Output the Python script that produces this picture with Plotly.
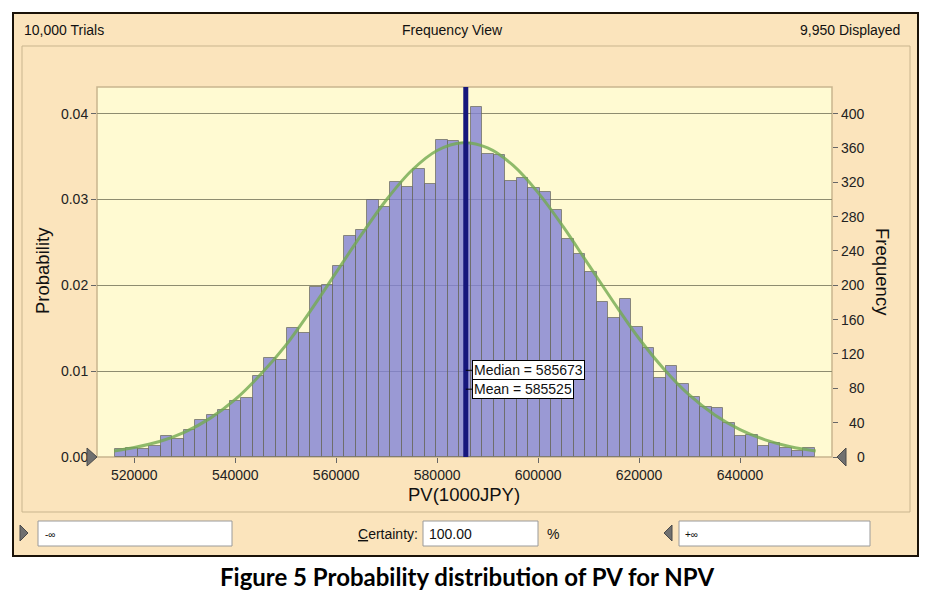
import plotly.graph_objects as go
import numpy as np

# ---------------- data ----------------
bin_start = 516180          # left edge of first bin (PV, 1000 JPY)
bin_width = 2273            # width of each bin
counts = [9, 11, 9, 13, 25, 21, 32, 43, 49, 55,
          65, 69, 94, 115, 113, 150, 145, 198, 200, 222,
          258, 265, 299, 291, 320, 315, 336, 318, 369, 368,
          366, 408, 353, 352, 321, 325, 313, 309, 288, 254,
          237, 216, 180, 162, 184, 151, 127, 92, 106, 85,
          70, 58, 57, 40, 25, 26, 13, 16, 11, 7, 10]
fit_x = [516000, 520000, 525000, 530000, 535000, 540000, 545000, 550000,
         555000, 560000, 565000, 570000, 575000, 580000, 585000, 590000,
         595000, 600000, 605000, 610000, 615000, 620000, 625000, 630000,
         635000, 640000, 645000, 650000, 655000]
fit_counts = [7, 11, 18, 29, 45, 67, 96, 130, 171, 215, 259, 300, 334, 357,
              366, 360, 340, 308, 268, 224, 180, 138, 102, 72, 49, 32, 20, 12, 7]
median_value = 585673
mean_value = 585525
trials_text = "10,000 Trials"
view_text = "Frequency View"
displayed_text = "9,950 Displayed"
x_ticks = [520000, 540000, 560000, 580000, 600000, 620000, 640000]
prob_ticks = [0.00, 0.01, 0.02, 0.03, 0.04]
freq_ticks = [0, 40, 80, 120, 160, 200, 240, 280, 320, 360, 400]
certainty = "100.00"
caption = "Figure 5 Probability distribution of PV for NPV"

# ---------------- geometry helpers ----------------
OFF = 8                      # page body margin
W, H = 929 - OFF, 595 - OFF
L, R, T, B = 97, 832, 87, 457   # plot area in window pixels
PW, PH = R - L, B - T


def px(x):
    return (x - L) / PW


def py(y):
    return (B - y) / PH


centers = bin_start + bin_width * (np.arange(len(counts)) + 0.5)

FONT = "Liberation Sans, Arial, sans-serif"
BEIGE = "#FBE4BC"
PLOTBG = "#FFFAD2"
TAN = "#C9B58E"

fig = go.Figure()

fig.add_trace(go.Bar(
    x=centers, y=counts, width=bin_width, yaxis="y2",
    marker=dict(color="rgb(129,130,213)", opacity=0.8,
                line=dict(color="rgb(105,105,105)", width=1)),
    showlegend=False, hoverinfo="skip"))

fig.add_trace(go.Scatter(
    x=fit_x, y=fit_counts, yaxis="y2", mode="lines",
    line=dict(color="rgba(115,170,80,0.8)", width=3, shape="spline"),
    showlegend=False, hoverinfo="skip"))

shapes = []
shapes.append(dict(type="rect", xref="paper", yref="paper", layer="below",
                   x0=px(13), x1=px(918), y0=py(556), y1=py(13),
                   fillcolor=BEIGE, line=dict(color="#1a1208", width=2)))
shapes.append(dict(type="rect", xref="paper", yref="paper", layer="below",
                   x0=px(22), x1=px(910), y0=py(512), y1=py(46),
                   fillcolor=BEIGE, line=dict(color=TAN, width=1)))
shapes.append(dict(type="rect", xref="paper", yref="paper", layer="below",
                   x0=0, x1=1, y0=0, y1=1,
                   fillcolor=PLOTBG, line=dict(color=TAN, width=1.5)))
shapes.append(dict(type="line", xref="x", yref="paper", layer="above",
                   x0=median_value, x1=median_value, y0=0, y1=1,
                   line=dict(color="#17177C", width=5)))
for yv in (0.0101, 0.0079):
    shapes.append(dict(type="line", xref="x", yref="y", xsizemode="pixel",
                       xanchor=median_value, x0=0, x1=8, y0=yv, y1=yv,
                       layer="above", line=dict(color="black", width=1)))


def tri(points, color="#707070"):
    path = "M " + " L ".join(f"{px(a)},{py(b)}" for a, b in points) + " Z"
    return dict(type="path", xref="paper", yref="paper", path=path,
                fillcolor=color, line=dict(color="#4a4a4a", width=1), layer="above")


shapes.append(tri([(87, 448), (97, 457), (87, 466)]))
shapes.append(tri([(846, 448), (837, 457), (846, 466)]))
shapes.append(tri([(20, 525), (28, 533), (20, 541)]))
shapes.append(tri([(672, 525), (664, 533), (672, 541)]))

for x0, x1 in ((38, 232), (423, 538), (679, 870)):
    shapes.append(dict(type="rect", xref="paper", yref="paper", layer="above",
                       x0=px(x0), x1=px(x1), y0=py(546), y1=py(521),
                       fillcolor="white", line=dict(color="#9a9a9a", width=1)))

ann = []


def text(x, y, s, size=14, xanchor="center", angle=0, family=FONT, color="#111", **kw):
    ann.append(dict(x=px(x), y=py(y), xref="paper", yref="paper", text=s,
                    showarrow=False, xanchor=xanchor, yanchor="middle",
                    textangle=angle, font=dict(family=family, size=size, color=color),
                    **kw))


text(22, 30, trials_text, xanchor="left")
text(452, 30, view_text)
text(902, 30, displayed_text, xanchor="right")
text(42, 271, "Probability", size=18.5, angle=-90)
text(883, 272, "Frequency", size=18.5, angle=90)
text(464, 494, "PV(1000JPY)", size=18.5)
text(356, 534, "<u>C</u>ertainty:", xanchor="left")
text(427, 534, certainty, xanchor="left")
text(553, 534, "%")
text(43, 534, "-∞", size=10, xanchor="left")
text(683, 534, "+∞", size=10, xanchor="left")
text(467, 576, "<b>" + caption + "</b>", size=24, family="Lato, sans-serif", color="black")

# right-axis labels, right aligned like the reference
for v in freq_ticks:
    ann.append(dict(x=px(867), y=v, xref="paper", yref="y2", text=str(v),
                    showarrow=False, xanchor="right", yanchor="middle",
                    font=dict(family=FONT, size=14, color="#222")))

for label, yv in ((f"Median = {median_value}", 0.0101), (f"Mean = {mean_value}", 0.0079)):
    ann.append(dict(x=median_value, y=yv, xref="x", yref="y", text=label,
                    showarrow=False, xanchor="left", yanchor="middle", xshift=6,
                    bgcolor="white", bordercolor="black", borderwidth=1, borderpad=1,
                    font=dict(family=FONT, size=14, color="#111")))

fig.update_layout(
    width=W, height=H,
    margin=dict(l=L - OFF, r=W - (R - OFF), t=T - OFF, b=H - (B - OFF), pad=0),
    paper_bgcolor="white", plot_bgcolor="rgba(0,0,0,0)",
    bargap=0, showlegend=False,
    shapes=shapes, annotations=ann,
    xaxis=dict(range=[512610, 658227], tickvals=x_ticks,
               ticktext=[str(v) for v in x_ticks], ticks="outside", ticklen=5,
               tickcolor="#666", showgrid=False, zeroline=False, showline=False,
               tickfont=dict(family=FONT, size=14, color="#222")),
    yaxis=dict(range=[0, 0.0431], tickvals=prob_ticks,
               ticktext=[f"{v:.2f}" for v in prob_ticks], ticks="outside",
               ticklen=5, tickcolor="#666", showgrid=True, gridcolor="#8E8C70",
               gridwidth=1, zeroline=False, showline=False,
               tickfont=dict(family=FONT, size=14, color="#222")),
    yaxis2=dict(range=[0, 431], overlaying="y", side="right", tickvals=freq_ticks,
                ticktext=["" for v in freq_ticks], ticks="outside", ticklen=5,
                tickcolor="#666", showgrid=False, zeroline=False, showline=False),
)

fig.write_html("out.html")
